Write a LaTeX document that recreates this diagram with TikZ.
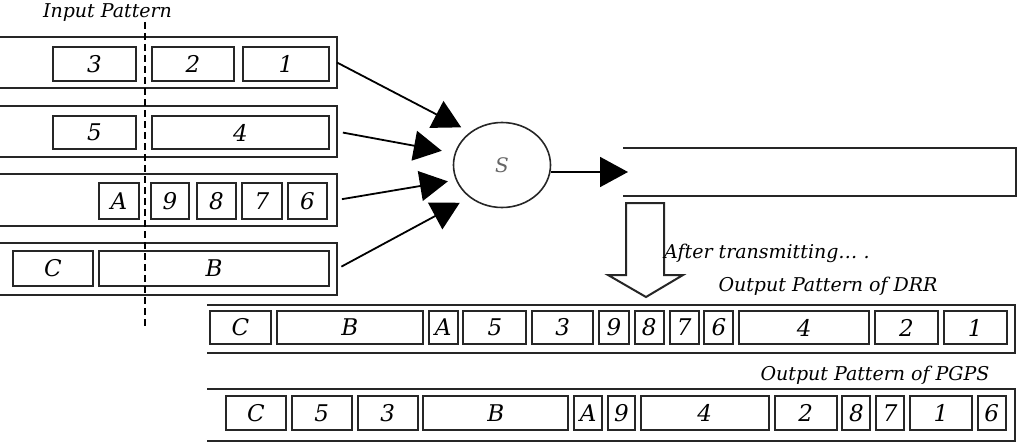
\documentclass[tikz,border=0pt]{standalone}
\usepackage{fontspec}
\setmainfont{DejaVu Serif}
\usetikzlibrary{shapes.geometric, arrows.meta, positioning}

\begin{document}
\begin{tikzpicture}[
        x=1pt, y=-1pt,
        node distance=5.8pt, % gap between the slots of a pattern
        % styles
        lane/.style={rectangle, minimum height=48pt, inner sep=0pt, outer sep=0pt, draw=none},
        rim/.style={line width=2pt, draw=black!85},
        cell/.style={rectangle, draw=black!85, line width=2pt, minimum height=33pt, inner sep=0pt, outer sep=0pt, font=\fontsize{23}{25}\selectfont\itshape},
        caption/.style={font=\fontsize{19}{21}\selectfont\itshape, inner sep=0pt},
        server/.style={ellipse, draw=black!85, line width=1.6pt, minimum width=97pt, minimum height=85pt, font=\fontsize{20}{22}\selectfont\itshape, text=black!60},
        feed/.style={line width=1.8pt, -{Triangle[length=28pt, width=30pt]}, shorten >=10pt},
        cut/.style={line width=1.6pt, dash pattern=on 7pt off 4pt}
    ]

    \useasboundingbox (0,0) rectangle (1027,444);

    % --- INPUT PATTERN: four queues ---
    \node (in1) [lane, minimum width=337pt, minimum height=51pt, anchor=east] at (337,62.5) {};
    \node (in2) [lane, minimum width=337pt, minimum height=51pt, anchor=east] at (337,131.5) {};
    \node (in3) [lane, minimum width=337pt, minimum height=52pt, anchor=east] at (337,200) {};
    \node (in4) [lane, minimum width=337pt, minimum height=52pt, anchor=east] at (337,269) {};
    \draw [rim] (in1.north west) -- (in1.north east) -- (in1.south east) -- (in1.south west);
    \draw [rim] (in2.north west) -- (in2.north east) -- (in2.south east) -- (in2.south west);
    \draw [rim] (in3.north west) -- (in3.north east) -- (in3.south east) -- (in3.south west);
    \draw [rim] (in4.north west) -- (in4.north east) -- (in4.south east) -- (in4.south west);

    % queue 1
    \node (c1) [cell, minimum width=86pt, anchor=east] at (329,64) {1};
    \node (c2) [cell, minimum width=82pt, left=9pt of c1] {2};
    \node (c3) [cell, minimum width=83pt, left=16pt of c2] {3};
    % queue 2
    \node (c4) [cell, minimum width=177pt, anchor=east] at (329,132.5) {4};
    \node (c5) [cell, minimum width=83pt, left=16pt of c4] {5};
    % queue 3
    \node (c6) [cell, minimum width=39pt, minimum height=36pt, anchor=east] at (327,201) {6};
    \node (c7) [cell, minimum width=40pt, minimum height=36pt, left=6pt of c6] {7};
    \node (c8) [cell, minimum width=39pt, minimum height=36pt, left=6pt of c7] {8};
    \node (c9) [cell, minimum width=38pt, minimum height=36pt, left=8pt of c8] {9};
    \node (cA) [cell, minimum width=40pt, minimum height=36pt, left=12pt of c9] {A};
    % queue 4
    \node (cB) [cell, minimum width=230pt, minimum height=35pt, anchor=east] at (329,268.5) {B};
    \node (cC) [cell, minimum width=80pt, minimum height=35pt, left=6pt of cB] {C};

    \node (inlbl) [caption] at (107.5,13) {Input Pattern};
    \coordinate (cuttop) at (145,22);
    \coordinate (cutbot) at (145,327);
    \draw [cut] (cuttop) -- (cutbot);

    % --- SERVER AND OUTPUT LINK ---
    \node (S) [server] at (502,165) {S};
    \node (chan) [lane, minimum width=393pt] at (819.5,172) {};
    \draw [rim] (chan.north west) -- (chan.north east) -- (chan.south east) -- (chan.south west);

    \draw [feed] (in1.east) -- (S.134);
    \draw [feed, shorten <=6pt, shorten >=13pt] (in2.east) -- (S.166);
    \draw [feed, shorten <=5pt, shorten >=8pt] (in3.east) -- (S.198);
    \draw [feed, shorten <=5pt, shorten >=11pt] (in4.east) -- (S.225);
    \draw [feed, shorten >=-5pt] (S.east |- chan.west) -- (chan.west);

    % hollow arrow down to the results
    \coordinate (drop) at (645,203);
    \draw [rim, fill=white] (drop) ++(-19,0) -- ++(38,0) -- ++(0,72) -- ++(19,0) -- ++(-37,22) -- ++(-38,-22) -- ++(18,0) -- cycle;
    \node (after) [caption, anchor=west] at (664,253) {After transmitting… .};

    % --- OUTPUT PATTERN OF DRR ---
    \node (drr) [lane, minimum width=808pt] at (611,329) {};
    \draw [rim] (drr.north west) -- (drr.north east) -- (drr.south east) -- (drr.south west);
    \node (drrlbl) [caption] at (828,286) {Output Pattern of DRR};

    \node (d1)  [cell, minimum width=61pt, anchor=west] at (210,327.5) {C};
    \node (d2)  [cell, minimum width=146pt, right=of d1] {B};
    \node (d3)  [cell, minimum width=29pt, right=of d2] {A};
    \node (d4)  [cell, minimum width=63pt, right=of d3] {5};
    \node (d5)  [cell, minimum width=61pt, right=of d4] {3};
    \node (d6)  [cell, minimum width=30pt, right=of d5] {9};
    \node (d7)  [cell, minimum width=29pt, right=of d6] {8};
    \node (d8)  [cell, minimum width=29pt, right=of d7] {7};
    \node (d9)  [cell, minimum width=29pt, right=of d8] {6};
    \node (d10) [cell, minimum width=130pt, right=of d9] {4};
    \node (d11) [cell, minimum width=63pt, right=of d10] {2};
    \node (d12) [cell, minimum width=63pt, right=of d11] {1};

    % --- OUTPUT PATTERN OF PGPS ---
    \node (pgps) [lane, minimum width=808pt, minimum height=52pt] at (611,415) {};
    \draw [rim] (pgps.north west) -- (pgps.north east) -- (pgps.south east) -- (pgps.south west);
    \node (pgpslbl) [caption] at (875,375) {Output Pattern of PGPS};

    \node (p1)  [cell, minimum width=60pt, minimum height=34pt, anchor=west] at (226,413) {C};
    \node (p2)  [cell, minimum width=60pt, minimum height=34pt, right=of p1] {5};
    \node (p3)  [cell, minimum width=60pt, minimum height=34pt, right=of p2] {3};
    \node (p4)  [cell, minimum width=145pt, minimum height=34pt, right=of p3] {B};
    \node (p5)  [cell, minimum width=28pt, minimum height=34pt, right=of p4] {A};
    \node (p6)  [cell, minimum width=27pt, minimum height=34pt, right=of p5] {9};
    \node (p7)  [cell, minimum width=128pt, minimum height=34pt, right=of p6] {4};
    \node (p8)  [cell, minimum width=62pt, minimum height=34pt, right=of p7] {2};
    \node (p9)  [cell, minimum width=28pt, minimum height=34pt, right=of p8] {8};
    \node (p10) [cell, minimum width=28pt, minimum height=34pt, right=of p9] {7};
    \node (p11) [cell, minimum width=62pt, minimum height=34pt, right=of p10] {1};
    \node (p12) [cell, minimum width=28pt, minimum height=34pt, right=of p11] {6};

\end{tikzpicture}
\end{document}
